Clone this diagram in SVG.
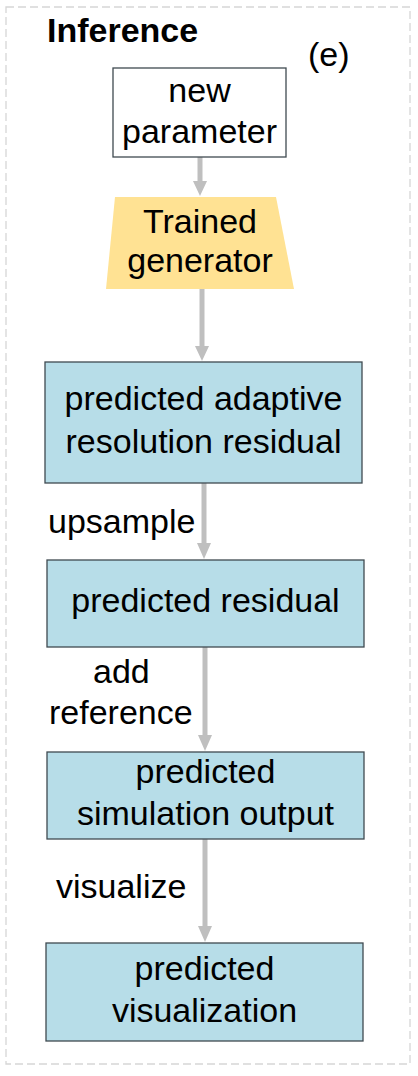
<svg xmlns="http://www.w3.org/2000/svg" width="418" height="1076" viewBox="0 0 418 1076">
<defs>
<style>
text{font-family:"Liberation Sans",Arial,sans-serif;font-size:34px;fill:#000}
.c{text-anchor:middle}
.box{fill:#B7DDE8;stroke:#3F4A50;stroke-width:1.3}
.conn{stroke:#BFBFBF;stroke-width:5;fill:none}
.head{fill:#BFBFBF}
</style>
</defs>
<rect x="6" y="7" width="404" height="1057" fill="none" stroke="#D6D6D6" stroke-width="1.3" stroke-dasharray="8,4"/>
<text x="47" y="42" style="font-weight:bold">Inference</text>
<text x="308" y="66">(e)</text>
<g id="connectors">
<line class="conn" x1="200" y1="157" x2="200" y2="183"/><polygon class="head" points="193,181 207,181 200,196"/>
<line class="conn" x1="202" y1="289" x2="202" y2="348"/><polygon class="head" points="195,346 209,346 202,361"/>
<line class="conn" x1="204" y1="483" x2="204" y2="545"/><polygon class="head" points="197,543 211,543 204,559"/>
<line class="conn" x1="205" y1="647" x2="205" y2="737"/><polygon class="head" points="198,735 212,735 205,751"/>
<line class="conn" x1="205" y1="839" x2="205" y2="928"/><polygon class="head" points="198,926 212,926 205,942"/>
</g>
<g id="labels">
<text x="48" y="533">upsample</text>
<text x="93" y="683">add</text>
<text x="49" y="724">reference</text>
<text x="56" y="898">visualize</text>
</g>
<g id="new-parameter">
<rect x="113" y="68" width="173" height="89" fill="#FFFFFF" stroke="#3F4A50" stroke-width="1.3"/>
<text class="c" x="199.5" y="102">new</text>
<text class="c" x="199.5" y="143">parameter</text>
</g>
<g id="trained-generator">
<polygon points="115,197 276,197 294,289 106,289" fill="#FFE293"/>
<text class="c" x="200" y="233">Trained</text>
<text class="c" x="200" y="272">generator</text>
</g>
<g id="adaptive-residual">
<rect class="box" x="45" y="362" width="317" height="121"/>
<text class="c" x="203.5" y="410">predicted adaptive</text>
<text class="c" x="203.5" y="453">resolution residual</text>
</g>
<g id="predicted-residual">
<rect class="box" x="47" y="560" width="317" height="87"/>
<text class="c" x="205.5" y="612">predicted residual</text>
</g>
<g id="simulation-output">
<rect class="box" x="47" y="752" width="317" height="87"/>
<text class="c" x="205.5" y="783">predicted</text>
<text class="c" x="205.5" y="825">simulation output</text>
</g>
<g id="visualization">
<rect class="box" x="46" y="943" width="317" height="98"/>
<text class="c" x="204.5" y="980">predicted</text>
<text class="c" x="204.5" y="1022">visualization</text>
</g>
</svg>
